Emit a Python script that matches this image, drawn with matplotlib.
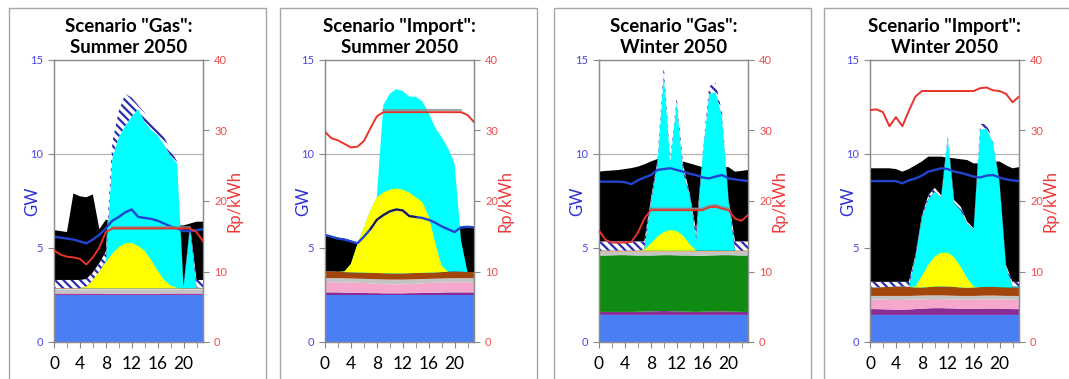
import numpy as np
import matplotlib.pyplot as plt
from matplotlib.patches import Rectangle

plt.rcParams['font.family'] = ['Lato', 'DejaVu Sans']
plt.rcParams['hatch.linewidth'] = 1.6

hours = [0, 1, 2, 3, 4, 5, 6, 7, 8, 9, 10, 11, 12, 13, 14, 15, 16, 17, 18, 19, 20, 21, 22, 23]
hour_labels = ['0', '4', '8', '12', '16', '20']
nan = np.nan

# ---- Scenario "Gas", summer ----
gs_blue = [2.5, 2.5, 2.5, 2.5, 2.5, 2.5, 2.5, 2.5, 2.5, 2.5, 2.5, 2.5, 2.5, 2.5, 2.5, 2.5, 2.5, 2.5, 2.5, 2.5, 2.5, 2.5, 2.5, 2.5]
gs_purple = [2.58, 2.58, 2.58, 2.58, 2.58, 2.58, 2.58, 2.58, 2.57, 2.56, 2.56, 2.56, 2.56, 2.56, 2.56, 2.56, 2.57, 2.58, 2.58, 2.58, 2.58, 2.58, 2.58, 2.58]
gs_gray = [2.8, 2.8, 2.8, 2.8, 2.8, 2.8, 2.8, 2.8, 2.8, 2.8, 2.8, 2.8, 2.8, 2.8, 2.8, 2.8, 2.8, 2.8, 2.8, 2.8, 2.8, 2.8, 2.8, 2.8]
gs_tan = [2.86, 2.86, 2.86, 2.86, 2.86, 2.86, 2.86, 2.86, 2.86, 2.86, 2.86, 2.86, 2.86, 2.86, 2.86, 2.86, 2.86, 2.86, 2.86, 2.86, 2.86, 2.86, 2.86, 2.86]
gs_yellow = [2.86, 2.86, 2.86, 2.86, 2.86, 2.95, 3.3, 3.75, 4.25, 4.7, 5.05, 5.25, 5.28, 5.1, 4.85, 4.35, 3.8, 3.3, 3.0, 2.88, 2.86, 2.86, 2.86, 2.86]
gs_cyan = [2.86, 2.86, 2.86, 2.86, 2.86, 2.95, 3.3, 3.75, 4.3, 9.8, 10.9, 11.5, 12.0, 12.4, 11.7, 11.3, 11.0, 10.5, 9.9, 9.5, 2.9, 6.1, 2.9, 2.86]
gs_hatch = [3.3, 3.3, 3.3, 3.3, 3.3, 3.35, 3.7, 4.2, 4.8, 10.6, 12.3, 13.2, 13.0, 12.6, 12.2, 11.6, 11.3, 10.9, 10.2, 9.6, 3.0, 6.2, 3.3, 3.3]
gs_black = [5.95, 5.9, 5.85, 7.9, 7.75, 7.7, 7.85, 6.0, 6.5, 6.5, 6.5, 6.5, 6.5, 6.5, 6.5, 6.5, 6.5, 6.4, 6.3, 6.2, 6.2, 6.3, 6.4, 6.4]
gs_demand = [5.6, 5.55, 5.5, 5.45, 5.35, 5.25, 5.45, 5.7, 6.05, 6.45, 6.65, 6.9, 7.05, 6.65, 6.6, 6.55, 6.45, 6.3, 6.15, 6.05, 5.9, 5.9, 5.95, 6.0]
gs_price = [13.0, 12.4, 12.1, 12.0, 11.8, 11.0, 12.0, 13.4, 15.6, 16.1, 16.1, 16.1, 16.1, 16.1, 16.1, 16.1, 16.1, 16.1, 16.1, 16.1, 16.1, 16.1, 15.6, 14.3]
gs_cap = [nan, nan, nan, nan, nan, nan, nan, nan, nan, 16.35, 16.35, 16.35, 16.35, 16.35, 16.35, 16.35, 16.35, 16.35, 16.35, 16.35, 16.35, 16.35, nan, nan]

# ---- Scenario "Import", summer ----
is_blue = [2.5, 2.5, 2.5, 2.5, 2.5, 2.5, 2.5, 2.5, 2.5, 2.5, 2.5, 2.5, 2.5, 2.5, 2.5, 2.5, 2.5, 2.5, 2.5, 2.5, 2.5, 2.5, 2.5, 2.5]
is_purple = [2.64, 2.64, 2.64, 2.63, 2.62, 2.62, 2.61, 2.6, 2.6, 2.59, 2.59, 2.59, 2.59, 2.6, 2.6, 2.61, 2.62, 2.62, 2.63, 2.64, 2.64, 2.64, 2.64, 2.64]
is_pink = [3.18, 3.18, 3.18, 3.17, 3.16, 3.15, 3.14, 3.12, 3.1, 3.08, 3.07, 3.07, 3.07, 3.08, 3.1, 3.12, 3.14, 3.15, 3.16, 3.17, 3.18, 3.18, 3.18, 3.18]
is_gray = [3.4, 3.4, 3.4, 3.39, 3.38, 3.37, 3.36, 3.35, 3.34, 3.33, 3.32, 3.32, 3.32, 3.33, 3.34, 3.35, 3.36, 3.37, 3.38, 3.39, 3.4, 3.4, 3.4, 3.4]
is_brown = [3.76, 3.76, 3.74, 3.72, 3.71, 3.7, 3.69, 3.68, 3.67, 3.66, 3.65, 3.65, 3.65, 3.66, 3.67, 3.68, 3.69, 3.7, 3.72, 3.74, 3.76, 3.74, 3.72, 3.72]
is_yellow = [3.76, 3.76, 3.74, 3.75, 4.15, 5.2, 6.1, 7.0, 7.7, 7.95, 8.1, 8.17, 8.1, 7.95, 7.7, 7.45, 6.7, 5.3, 4.05, 3.74, 3.76, 3.74, 3.72, 3.72]
is_cyan = [3.76, 3.76, 3.74, 3.75, 4.15, 5.2, 6.1, 7.0, 7.7, 12.6, 13.2, 13.45, 13.35, 13.05, 13.05, 12.8, 12.2, 11.4, 10.9, 10.3, 9.5, 5.4, 3.72, 3.72]
is_black = [5.7, 5.62, 5.55, 5.5, 5.4, 5.25, 5.6, 5.9, 6.2, 6.3, 6.3, 6.3, 6.3, 6.3, 6.3, 6.3, 6.3, 6.2, 6.1, 6.0, 5.9, 6.1, 6.13, 6.1]
is_demand = [5.7, 5.6, 5.5, 5.45, 5.35, 5.25, 5.6, 6.0, 6.5, 6.75, 6.95, 7.05, 7.0, 6.7, 6.65, 6.6, 6.5, 6.35, 6.15, 6.0, 5.85, 6.1, 6.13, 6.1]
is_dark = [nan, nan, nan, nan, nan, nan, nan, 6.0, 6.5, 6.75, 6.95, 7.05, 7.0, 6.7, 6.65, nan, nan, nan, nan, nan, nan, nan, nan, nan]
is_price = [29.8, 28.9, 28.6, 28.1, 27.6, 27.7, 28.5, 30.3, 32.0, 32.6, 32.6, 32.6, 32.6, 32.6, 32.6, 32.6, 32.6, 32.6, 32.6, 32.6, 32.6, 32.6, 32.2, 31.2]
is_cap = [nan, nan, nan, nan, nan, nan, nan, nan, nan, 32.85, 32.85, 32.85, 32.85, 32.85, 32.85, 32.85, 32.85, 32.85, 32.85, 32.85, 32.85, 32.85, nan, nan]

# ---- Scenario "Gas", winter ----
gw_blue = [1.44, 1.44, 1.44, 1.44, 1.44, 1.44, 1.44, 1.44, 1.44, 1.44, 1.44, 1.44, 1.44, 1.44, 1.44, 1.44, 1.44, 1.44, 1.44, 1.44, 1.44, 1.44, 1.44, 1.44]
gw_purple = [1.6, 1.6, 1.6, 1.6, 1.6, 1.6, 1.61, 1.62, 1.63, 1.64, 1.65, 1.64, 1.63, 1.62, 1.61, 1.6, 1.61, 1.62, 1.63, 1.63, 1.62, 1.61, 1.6, 1.6]
gw_green = [4.6, 4.6, 4.61, 4.62, 4.62, 4.61, 4.6, 4.6, 4.6, 4.61, 4.62, 4.62, 4.61, 4.6, 4.6, 4.58, 4.58, 4.6, 4.61, 4.62, 4.62, 4.61, 4.6, 4.6]
gw_gray = [4.8, 4.8, 4.8, 4.8, 4.8, 4.8, 4.8, 4.8, 4.8, 4.8, 4.8, 4.8, 4.8, 4.8, 4.8, 4.8, 4.8, 4.8, 4.8, 4.8, 4.8, 4.8, 4.8, 4.8]
gw_tan = [4.86, 4.86, 4.86, 4.86, 4.86, 4.86, 4.86, 4.86, 4.86, 4.86, 4.86, 4.86, 4.86, 4.86, 4.86, 4.86, 4.86, 4.86, 4.86, 4.86, 4.86, 4.86, 4.86, 4.86]
gw_yellow = [4.86, 4.86, 4.86, 4.86, 4.86, 4.86, 4.86, 4.9, 5.25, 5.6, 5.85, 5.95, 5.9, 5.65, 5.2, 4.86, 4.86, 4.86, 4.86, 4.86, 4.86, 4.86, 4.86, 4.86]
gw_cyan = [4.86, 4.86, 4.86, 4.86, 4.86, 4.86, 4.86, 4.9, 7.4, 9.4, 14.3, 9.6, 12.8, 9.0, 7.8, 5.5, 10.0, 13.2, 13.3, 12.0, 7.5, 4.86, 4.86, 4.86]
gw_hatch = [5.35, 5.35, 5.35, 5.35, 5.35, 5.35, 5.35, 5.35, 7.6, 9.6, 14.7, 9.8, 13.0, 9.4, 7.9, 5.9, 10.1, 13.6, 13.8, 12.2, 7.6, 5.35, 5.35, 5.35]
gw_black = [9.06, 9.1, 9.12, 9.15, 9.2, 9.25, 9.33, 9.45, 9.6, 9.73, 9.75, 9.7, 9.65, 9.6, 9.5, 9.4, 9.3, 9.3, 9.3, 9.3, 9.3, 9.06, 9.1, 9.15]
gw_demand = [8.53, 8.53, 8.53, 8.53, 8.5, 8.4, 8.6, 8.75, 8.88, 9.15, 9.2, 9.24, 9.15, 9.06, 8.95, 8.88, 8.75, 8.7, 8.8, 8.88, 8.7, 8.65, 8.6, 8.56]
gw_price = [15.8, 14.5, 14.1, 14.1, 14.1, 14.2, 15.5, 17.5, 18.7, 18.7, 18.7, 18.7, 18.7, 18.7, 18.7, 18.7, 18.7, 19.1, 19.2, 18.9, 18.7, 17.5, 17.2, 18.0]
gw_cap = [nan, nan, nan, nan, nan, nan, nan, nan, 18.95, 18.95, 18.95, 18.95, 18.95, 18.95, 18.95, 18.95, 18.95, 19.35, 19.45, 19.15, 18.95, nan, nan, nan]

# ---- Scenario "Import", winter ----
iw_blue = [1.44, 1.44, 1.44, 1.44, 1.44, 1.44, 1.44, 1.44, 1.44, 1.44, 1.44, 1.44, 1.44, 1.44, 1.44, 1.44, 1.44, 1.44, 1.44, 1.44, 1.44, 1.44, 1.44, 1.44]
iw_purple = [1.75, 1.75, 1.74, 1.73, 1.72, 1.72, 1.73, 1.75, 1.77, 1.79, 1.8, 1.8, 1.79, 1.78, 1.77, 1.76, 1.76, 1.77, 1.78, 1.78, 1.77, 1.76, 1.75, 1.75]
iw_pink = [2.25, 2.25, 2.25, 2.24, 2.24, 2.24, 2.25, 2.26, 2.27, 2.28, 2.28, 2.28, 2.27, 2.26, 2.25, 2.25, 2.25, 2.26, 2.27, 2.27, 2.26, 2.25, 2.25, 2.25]
iw_gray = [2.45, 2.45, 2.45, 2.45, 2.45, 2.45, 2.45, 2.46, 2.47, 2.48, 2.48, 2.48, 2.47, 2.46, 2.45, 2.45, 2.45, 2.46, 2.47, 2.47, 2.46, 2.45, 2.45, 2.45]
iw_brown = [2.9, 2.9, 2.92, 2.93, 2.95, 2.95, 2.93, 2.9, 2.9, 2.92, 2.95, 2.96, 2.95, 2.93, 2.9, 2.88, 2.9, 2.92, 2.93, 2.93, 2.92, 2.9, 2.9, 2.9]
iw_yellow = [2.9, 2.9, 2.92, 2.93, 2.95, 2.95, 2.93, 2.95, 3.5, 4.1, 4.55, 4.75, 4.75, 4.5, 4.0, 3.4, 2.95, 2.92, 2.93, 2.93, 2.92, 2.9, 2.9, 2.9]
iw_cyan = [2.9, 2.9, 2.92, 2.93, 2.95, 2.95, 2.93, 4.5, 6.6, 7.6, 8.0, 7.7, 10.9, 7.4, 7.0, 6.3, 6.0, 11.3, 11.35, 10.6, 8.4, 4.0, 2.95, 2.95]
iw_hatch = [3.2, 3.2, 3.2, 3.2, 3.2, 3.2, 3.2, 4.6, 6.7, 7.8, 8.2, 7.8, 11.0, 7.55, 7.2, 6.4, 6.05, 11.6, 11.6, 10.7, 8.5, 4.1, 3.2, 3.2]
iw_black = [9.24, 9.24, 9.24, 9.24, 9.2, 9.06, 9.2, 9.4, 9.6, 9.86, 9.86, 9.86, 9.8, 9.77, 9.72, 9.68, 9.5, 9.5, 9.55, 9.6, 9.6, 9.4, 9.24, 9.3]
iw_demand = [8.56, 8.56, 8.56, 8.56, 8.56, 8.44, 8.6, 8.7, 8.85, 9.06, 9.15, 9.24, 9.2, 9.06, 9.0, 8.9, 8.8, 8.75, 8.85, 8.88, 8.75, 8.65, 8.6, 8.56]
iw_price = [32.9, 33.0, 32.6, 30.6, 31.9, 30.6, 32.8, 34.8, 35.6, 35.6, 35.6, 35.6, 35.6, 35.6, 35.6, 35.6, 35.6, 36.0, 36.1, 35.7, 35.6, 35.2, 34.0, 34.8]

C_BLUE = '#4a7ef4'
C_PURPLE = '#8a2c96'
C_PINK = '#f5a8cc'
C_GRAY = '#c4c4c4'
C_BROWN = '#a3460c'
C_TAN = '#e8b27a'
C_GREEN = '#0f8a12'

panels = [
    dict(left=54, box=(9, 266), title='Scenario "Gas":\nSummer 2050',
         layers=[(gs_blue, C_BLUE), (gs_purple, '#b03a96'), (gs_gray, C_GRAY), (gs_tan, C_TAN)],
         black=gs_black, cyan=gs_cyan, hatch=gs_hatch, yellow=gs_yellow,
         demand=gs_demand, dark=None, price=gs_price, cap=gs_cap),
    dict(left=325, box=(280, 537), title='Scenario "Import":\nSummer 2050',
         layers=[(is_blue, C_BLUE), (is_purple, C_PURPLE), (is_pink, C_PINK), (is_gray, C_GRAY), (is_brown, C_BROWN)],
         black=is_black, cyan=is_cyan, hatch=None, yellow=is_yellow,
         demand=is_demand, dark=is_dark, price=is_price, cap=is_cap),
    dict(left=599, box=(554, 811), title='Scenario "Gas":\nWinter 2050',
         layers=[(gw_blue, C_BLUE), (gw_purple, C_PURPLE), (gw_green, C_GREEN), (gw_gray, C_GRAY), (gw_tan, C_TAN)],
         black=gw_black, cyan=gw_cyan, hatch=gw_hatch, yellow=gw_yellow,
         demand=gw_demand, dark=None, price=gw_price, cap=gw_cap),
    dict(left=870, box=(824, 1082), title='Scenario "Import":\nWinter 2050',
         layers=[(iw_blue, C_BLUE), (iw_purple, C_PURPLE), (iw_pink, C_PINK), (iw_gray, C_GRAY), (iw_brown, C_BROWN)],
         black=iw_black, cyan=iw_cyan, hatch=iw_hatch, yellow=iw_yellow,
         demand=iw_demand, dark=None, price=iw_price, cap=None),
]

W, H = 1069, 379
fig = plt.figure(figsize=(W / 100, H / 100), dpi=100)

ax_bottom = (H - 342) / H
ax_height = 282 / H
ax_width = 149 / W

for p in panels:
    # panel frame
    bx0, bx1 = p['box']
    fig.patches.append(Rectangle((bx0 / W, -0.1), (bx1 - bx0) / W, 1.1 - 8 / H,
                                 transform=fig.transFigure, fill=False,
                                 edgecolor='#a6a6a6', linewidth=1.0))

    ax = fig.add_axes([p['left'] / W, ax_bottom, ax_width, ax_height])
    ax.set_xlim(0, 23)
    ax.set_ylim(0, 15)

    for g in [5, 10]:
        ax.axhline(g, color='#b4b4b4', linewidth=0.9, zorder=0)

    bottom = [0.0] * 24
    for top, col in p['layers']:
        ax.fill_between(hours, bottom, top, facecolor=col, linewidth=0, zorder=2)
        bottom = top
    base = bottom

    ax.fill_between(hours, base, p['black'], facecolor='black', linewidth=0, zorder=3)
    ax.fill_between(hours, base, p['cyan'], facecolor='#00ffff', linewidth=0, zorder=4)
    if p['hatch'] is not None:
        ax.fill_between(hours, p['cyan'], p['hatch'], facecolor='white',
                        edgecolor='#2b2bb0', hatch='\\\\\\\\', linewidth=0, zorder=5)
    ax.fill_between(hours, base, p['yellow'], facecolor='#ffff00', linewidth=0, zorder=6)

    ax.plot(hours, p['demand'], color='#2245d0', linewidth=1.7, zorder=7)
    if p['dark'] is not None:
        ax.plot(hours, p['dark'], color='#1a1a40', linewidth=1.2, zorder=8)

    ax.set_xticks([0, 4, 8, 12, 16, 20])
    ax.set_xticklabels(hour_labels)
    ax.set_xticks([2, 6, 10, 14, 18, 22], minor=True)
    ax.set_yticks([0, 5, 10, 15])
    ax.tick_params(axis='x', which='both', direction='out', length=4, color='#888888',
                   labelsize=12.5, pad=6)
    ax.tick_params(axis='y', direction='out', length=4, color='#888888',
                   labelsize=8, labelcolor='#4646dc', pad=4)
    ax.set_ylabel('GW', color='#2f2fd8', fontsize=12)
    ax.yaxis.set_label_coords(-0.095, 0.5)
    for s in ax.spines.values():
        s.set_color('#8c8c8c')
        s.set_linewidth(0.9)

    ax2 = ax.twinx()
    ax2.set_ylim(0, 40)
    ax2.set_yticks([0, 10, 20, 30, 40])
    ax2.tick_params(axis='y', direction='out', length=4, color='#888888',
                    labelsize=8, labelcolor='#ee4a4a', pad=4)
    ax2.set_ylabel('Rp/kWh', color='#ee3a3a', fontsize=12)
    ax2.yaxis.set_label_coords(1.16, 0.5)
    for s in ax2.spines.values():
        s.set_color('#8c8c8c')
        s.set_linewidth(0.9)
    if p['cap'] is not None:
        ax2.plot(hours, p['cap'], color='#8a8a8a', linewidth=1.1, zorder=3)
    ax2.plot(hours, p['price'], color='#e8332a', linewidth=1.4, zorder=4)

    fig.text((p['left'] + 74.5) / W, 1 - 18 / H, p['title'], ha='center', va='top',
             fontsize=13.5, fontweight='bold', linespacing=1.3)

fig.savefig('out.png', dpi=100)
